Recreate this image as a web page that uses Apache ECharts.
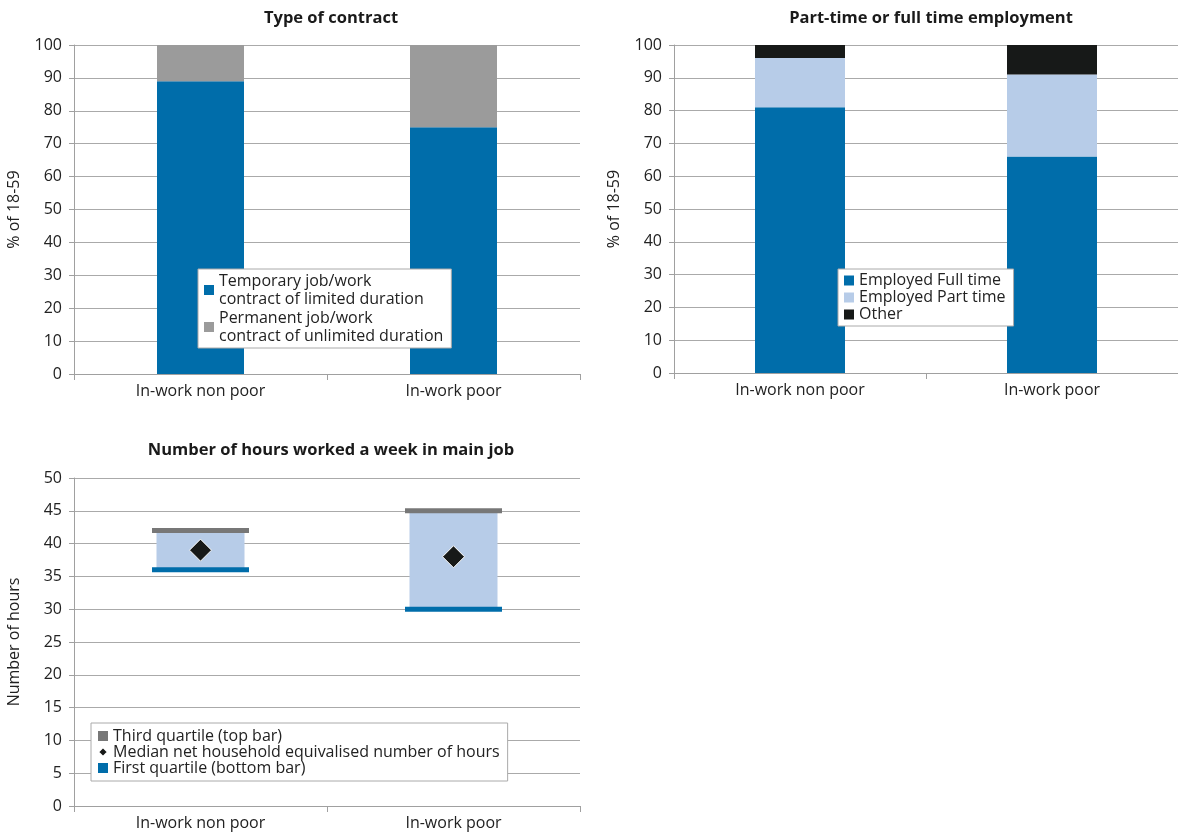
<!DOCTYPE html>
<html>
<head>
<meta charset="utf-8">
<script src="https://cdn.jsdelivr.net/npm/echarts@6/dist/echarts.min.js"></script>
<style>
html,body{margin:0;padding:0;background:#fff;}
#main{width:1178px;height:837px;}
</style>
</head>
<body>
<div id="main"></div>
<script>
// ---- data ----
var categories = ['In-work non poor', 'In-work poor'];
var contractTemporary = [89, 75];
var contractPermanent = [11, 25];
var fullTime = [81, 66];
var partTime = [15, 25];
var otherEmp = [4, 9];
var q1Hours = [36, 30];
var medianHours = [39, 38];
var q3Hours = [42, 45];
var pctTicks = [0, 100, 10];
var hourTicks = [0, 50, 5];

var FONT = '"Open Sans", "Noto Sans", sans-serif';
var BLUE = '#006daa', GREY = '#9b9b9b', LIGHT = '#b7cce8', BLACK = '#171918', QGREY = '#777777';
var boxSize = q3Hours.map(function (v, i) { return v - q1Hours[i]; });

function yAxis(gi, ticks, name) {
  return {
    type: 'value', gridIndex: gi, min: ticks[0], max: ticks[1], interval: ticks[2],
    name: name, nameLocation: 'middle', nameGap: 52, nameRotate: 90,
    nameTextStyle: { fontFamily: FONT, fontSize: 16, color: '#222' },
    axisLine: { show: true, lineStyle: { color: '#a0a0a0', width: 1 } },
    axisTick: { show: true, length: 5, lineStyle: { color: '#a0a0a0' } },
    axisLabel: { fontFamily: FONT, fontSize: 16, color: '#222', margin: 12 },
    splitLine: { show: true, lineStyle: { color: '#aaaaaa', width: 1 } }
  };
}
function xAxis(gi) {
  return {
    type: 'category', gridIndex: gi, data: categories,
    axisLine: { show: true, lineStyle: { color: '#a0a0a0', width: 1 } },
    axisTick: { show: true, length: 6, alignWithLabel: false, lineStyle: { color: '#a0a0a0' } },
    axisLabel: { fontFamily: FONT, fontSize: 16, color: '#222', margin: 9 }
  };
}

var chart = echarts.init(document.getElementById('main'), null, { renderer: 'canvas' });
chart.setOption({
  animation: false,
  backgroundColor: '#fff',
  title: [
    { text: 'Type of contract', left: 326, top: 5, textAlign: 'center',
      textStyle: { fontFamily: FONT, fontSize: 16.5, fontWeight: 'bold', color: '#1a1a1a' } },
    { text: 'Part-time or full time employment', left: 926, top: 5, textAlign: 'center',
      textStyle: { fontFamily: FONT, fontSize: 16.5, fontWeight: 'bold', color: '#1a1a1a' } },
    { text: 'Number of hours worked a week in main job', left: 326, top: 437, textAlign: 'center',
      textStyle: { fontFamily: FONT, fontSize: 16.5, fontWeight: 'bold', color: '#1a1a1a' } }
  ],
  grid: [
    { left: 74, top: 45, width: 506, height: 329 },
    { left: 674, top: 45, width: 504, height: 328 },
    { left: 74, top: 478, width: 506, height: 328 }
  ],
  xAxis: [xAxis(0), xAxis(1), xAxis(2)],
  yAxis: [yAxis(0, pctTicks, '% of 18-59'), yAxis(1, pctTicks, '% of 18-59'), yAxis(2, hourTicks, 'Number of hours')],
  legend: [
    { orient: 'vertical', left: 198, top: 269, padding: [3, 8, 3, 6], itemGap: 1,
      backgroundColor: '#fff', borderColor: '#aaa', borderWidth: 1,
      itemWidth: 10, itemHeight: 10, icon: 'rect',
      data: ['Temporary job/work\ncontract of limited duration', 'Permanent job/work\ncontract of unlimited duration'],
      textStyle: { fontFamily: FONT, fontSize: 16, color: '#222', lineHeight: 18 } },
    { orient: 'vertical', left: 838, top: 269, padding: [3, 8, 3, 6], itemGap: 0,
      backgroundColor: '#fff', borderColor: '#aaa', borderWidth: 1,
      itemWidth: 10, itemHeight: 10, icon: 'rect',
      data: ['Employed Full time', 'Employed Part time', 'Other'],
      textStyle: { fontFamily: FONT, fontSize: 16, color: '#222', lineHeight: 17 } },
    { orient: 'vertical', left: 91, top: 723, padding: [5, 8, 5, 6], itemGap: 0,
      backgroundColor: '#fff', borderColor: '#aaa', borderWidth: 1,
      itemWidth: 10, itemHeight: 10,
      data: [
        { name: 'Third quartile (top bar)', icon: 'rect' },
        { name: 'Median net household equivalised number of hours', icon: 'diamond' },
        { name: 'First quartile (bottom bar)', icon: 'rect' }
      ],
      textStyle: { fontFamily: FONT, fontSize: 16, color: '#222', lineHeight: 16 } }
  ],
  series: [
    { name: 'Temporary job/work\ncontract of limited duration', type: 'bar', stack: 'c', xAxisIndex: 0, yAxisIndex: 0,
      barWidth: 87, data: contractTemporary, itemStyle: { color: BLUE } },
    { name: 'Permanent job/work\ncontract of unlimited duration', type: 'bar', stack: 'c', xAxisIndex: 0, yAxisIndex: 0,
      barWidth: 87, data: contractPermanent, itemStyle: { color: GREY } },

    { name: 'Employed Full time', type: 'bar', stack: 'e', xAxisIndex: 1, yAxisIndex: 1,
      barWidth: 90, data: fullTime, itemStyle: { color: BLUE } },
    { name: 'Employed Part time', type: 'bar', stack: 'e', xAxisIndex: 1, yAxisIndex: 1,
      barWidth: 90, data: partTime, itemStyle: { color: LIGHT } },
    { name: 'Other', type: 'bar', stack: 'e', xAxisIndex: 1, yAxisIndex: 1,
      barWidth: 90, data: otherEmp, itemStyle: { color: BLACK } },

    { name: 'base', type: 'bar', stack: 'h', xAxisIndex: 2, yAxisIndex: 2, barWidth: 88,
      data: q1Hours, itemStyle: { color: 'rgba(0,0,0,0)' }, silent: true },
    { name: 'box', type: 'bar', stack: 'h', xAxisIndex: 2, yAxisIndex: 2, barWidth: 88,
      data: boxSize, itemStyle: { color: LIGHT } },
    { name: 'Third quartile (top bar)', type: 'scatter', xAxisIndex: 2, yAxisIndex: 2, z: 5,
      symbol: 'rect', symbolSize: [97, 5], data: q3Hours, itemStyle: { color: QGREY, opacity: 1 } },
    { name: 'First quartile (bottom bar)', type: 'scatter', xAxisIndex: 2, yAxisIndex: 2, z: 5,
      symbol: 'rect', symbolSize: [97, 5], data: q1Hours, itemStyle: { color: BLUE, opacity: 1 } },
    { name: 'Median net household equivalised number of hours', type: 'scatter', xAxisIndex: 2, yAxisIndex: 2, z: 6,
      symbol: 'diamond', symbolSize: 22, data: medianHours,
      itemStyle: { color: BLACK, borderColor: '#fff', borderWidth: 1, opacity: 1 } }
  ]
});
</script>
</body>
</html>
